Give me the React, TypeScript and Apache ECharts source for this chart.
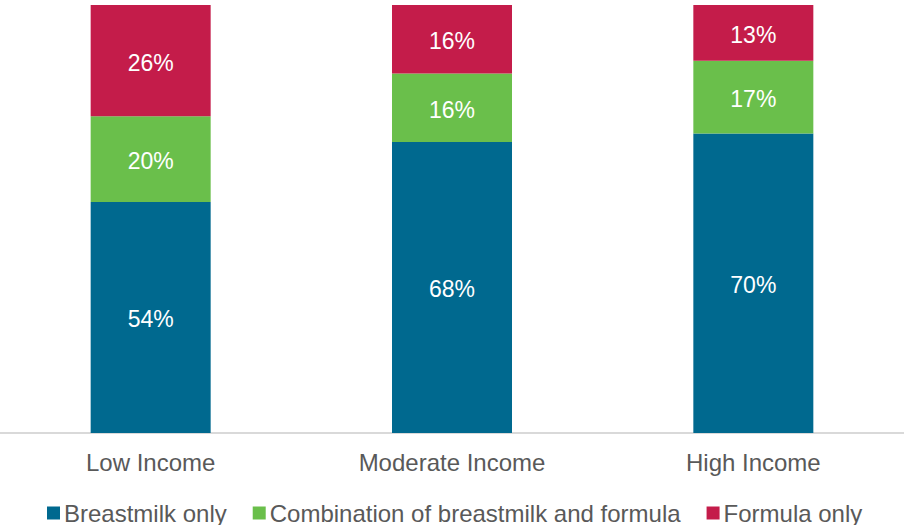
import React, { useEffect, useRef } from "react";
import * as echarts from "echarts";

const categories = ["Low Income", "Moderate Income", "High Income"];
const breastmilkOnly = [54, 68, 70];
const combination = [20, 16, 17];
const formulaOnly = [26, 16, 13];
const seriesNames = ["Breastmilk only", "Combination of breastmilk and formula", "Formula only"];
const colors = ["#00698F", "#6ABF4B", "#C41C4A"];

const FONT = "'Liberation Sans', Arial, sans-serif";

export default function App() {
  const ref = useRef<HTMLDivElement>(null);
  useEffect(() => {
    if (!ref.current) return;
    const chart = echarts.init(ref.current, undefined, { renderer: "svg" });
    const values = [breastmilkOnly, combination, formulaOnly];
    chart.setOption({
      animation: false,
      textStyle: { fontFamily: FONT },
      grid: { left: 0, right: 0, top: 5, bottom: 92, containLabel: false },
      legend: {
        left: 42,
        top: 496,
        itemWidth: 13,
        itemHeight: 13,
        itemGap: 26,
        icon: "rect",
        textStyle: { fontSize: 24, color: "#595959", fontFamily: FONT, padding: [0, 0, 0, -1] },
        data: seriesNames,
      },
      xAxis: {
        type: "category",
        data: categories,
        axisTick: { show: false },
        axisLine: { lineStyle: { color: "#D9D9D9", width: 2 } },
        axisLabel: { fontSize: 24, color: "#595959", margin: 17, fontFamily: FONT },
      },
      yAxis: { type: "value", min: 0, max: 100, show: false, splitLine: { show: false } },
      series: seriesNames.map((name, i) => ({
        name,
        type: "bar",
        stack: "total",
        barWidth: 120,
        data: values[i],
        itemStyle: { color: colors[i] },
        label: {
          show: true,
          position: "inside",
          color: "#FFFFFF",
          fontSize: 23,
          fontFamily: FONT,
          offset: [0, 2],
          formatter: "{c}%",
        },
      })),
    });
    return () => chart.dispose();
  }, []);
  return (
    <div
      ref={ref}
      style={{ position: "fixed", left: 0, top: 0, width: 904, height: 525, background: "#fff" }}
    />
  );
}
